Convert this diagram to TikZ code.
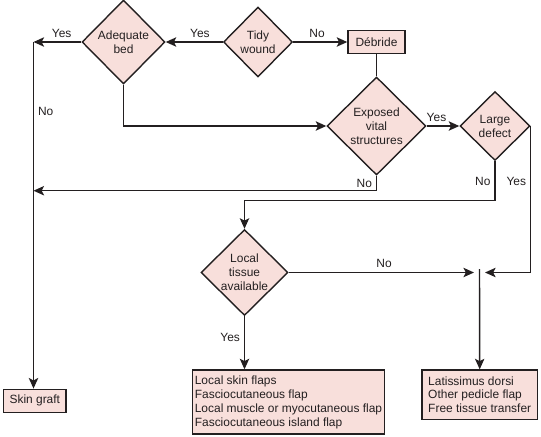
\documentclass[tikz,border=0pt]{standalone}
\usepackage{fontspec}
\setmainfont{Liberation Sans}
\usetikzlibrary{shapes.geometric,arrows.meta}
\definecolor{boxpink}{HTML}{F8DFDB}
\definecolor{inkgray}{HTML}{231F20}
\begin{document}
\begin{tikzpicture}[x=0.03cm,y=-0.03cm,
        font=\fontsize{10.2pt}{11.9pt}\selectfont,
        inkgray,line width=1.2pt,
        decision/.style={diamond,draw,fill=boxpink,align=center,inner sep=0pt},
        action/.style={rectangle,draw,fill=boxpink,align=left,inner sep=0pt},
        arr/.style={-{Stealth[length=9pt,width=8pt,inset=2pt]}}]
                \useasboundingbox (0,0) rectangle (541,436);

                \node[decision,minimum width=2.49cm,minimum height=2.52cm] (adequate) at (123.5,42) {Adequate\\bed};
                \node[decision,minimum width=2.07cm,minimum height=2.1cm] (tidy) at (258,42) {Tidy\\wound};
                \node[action,align=center,minimum width=1.71cm,minimum height=0.69cm] (debride) at (376.5,42) {Débride};
                \node[decision,minimum width=2.97cm,minimum height=2.94cm] (exposed) at (376.5,126) {Exposed\\vital\\structures};
                \node[decision,minimum width=2.1cm,minimum height=2.07cm] (large) at (495,126) {Large\\defect};
                \node[decision,minimum width=2.61cm,minimum height=2.58cm] (local) at (244.5,272.5) {Local\\tissue\\available};
                \node[action,align=center,minimum width=1.88cm,minimum height=0.69cm] (graft) at (34.8,400.8) {Skin graft};
                \node[action,minimum width=5.77cm,minimum height=1.92cm] (flaps) at (288.5,402) {Local skin flaps\\Fasciocutaneous flap\\Local muscle or myocutaneous flap\\Fasciocutaneous island flap};
                \node[action,minimum width=3.46cm,minimum height=1.48cm] (latissimus) at (479.7,394.7) {Latissimus dorsi\\Other pedicle flap\\Free tissue transfer};

                \coordinate (gtop) at (33.5,42);
                \coordinate (gmid) at (33.5,190.7);
                \coordinate (J) at (479.5,272.5);
                \coordinate (Jtop) at (479.5,269);

                \draw[arr] (tidy.west) -- (adequate.east) node[pos=0.4,above] {Yes};
                \draw[arr] (tidy.east) -- (debride.west) node[pos=0.44,above] {No};
                \draw[arr] (adequate.west) -- (gtop) node[pos=0.41,above] {Yes};
                \draw[arr] (gtop) -- (gtop |- graft.north) node[pos=0.2,right] {No};
                \draw (debride.south) -- (exposed.north);
                \draw[arr] (adequate.south) |- (exposed.west);
                \draw[arr] (exposed.east) -- (large.west) node[pos=0.3,above] {Yes};
                \draw[arr] (exposed.south) |- (gmid) node[pos=0.25,left] {No};
                \draw[arr] (large.south) -- ++(0,39.5) node[midway,left] {No} -| (local.north);
                \draw[arr,shorten >=0.165cm] (large.east) |- (J) node[pos=0.19,left] {Yes};
                \draw[arr,shorten >=0.165cm] (local.east) -- (J) node[midway,above] {No};
                \draw[arr] (Jtop) -- (latissimus.north);
                \draw[arr] (local.south) -- (local.south |- flaps.north) node[pos=0.4,left] {Yes};
            \end{tikzpicture}
\end{document}
